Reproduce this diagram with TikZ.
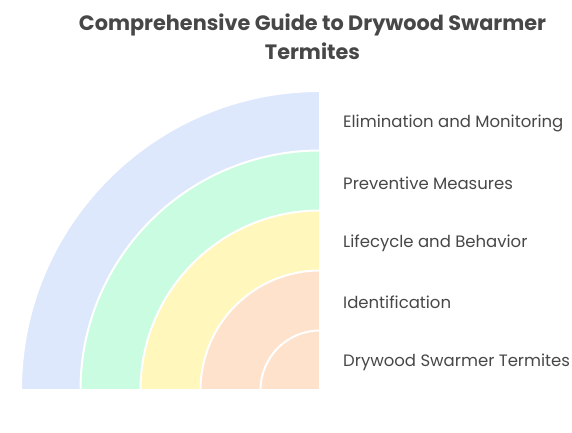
\documentclass[tikz,border=0pt]{standalone}
\usepackage{fontspec}
\setmainfont{Poppins}
\definecolor{txt}{HTML}{474747}
\definecolor{ringA}{HTML}{DDE8FD}
\definecolor{ringB}{HTML}{C9FCE1}
\definecolor{ringC}{HTML}{FFF7BB}
\definecolor{ringD}{HTML}{FFE2CC}
\tikzset{
  ring/.style={draw=white, line width=2pt},
  lbl/.style={anchor=west, inner sep=0pt, text=txt, font=\fontsize{16.5}{19}\selectfont},
  ttl/.style={inner sep=0pt, text=txt, font=\bfseries\fontsize{20.8}{24}\selectfont}
}
\begin{document}
\begin{tikzpicture}[x=1pt,y=1pt]
\useasboundingbox (0,0) rectangle (572,432);
\coordinate (c) at (320,42);
\foreach \r/\col in {299/ringA,239.5/ringB,179.5/ringC,119.5/ringD,59.5/ringD}{
  \filldraw[ring, fill=\col] (c) -- ++(180:\r) arc (180:90:\r) -- cycle;
}
\node[ttl] (t1) at (312.5,407) {Comprehensive Guide to Drywood Swarmer};
\node[ttl] (t2) at (312.5,381) {Termites};
\node[lbl] (l1) at (343,309) {Elimination and Monitoring};
\node[lbl] (l2) at (343,249) {Preventive Measures};
\node[lbl] (l3) at (343,189) {Lifecycle and Behavior};
\node[lbl] (l4) at (343,130) {Identification};
\node[lbl] (l5) at (343,70) {Drywood Swarmer Termites};
\end{tikzpicture}
\end{document}
